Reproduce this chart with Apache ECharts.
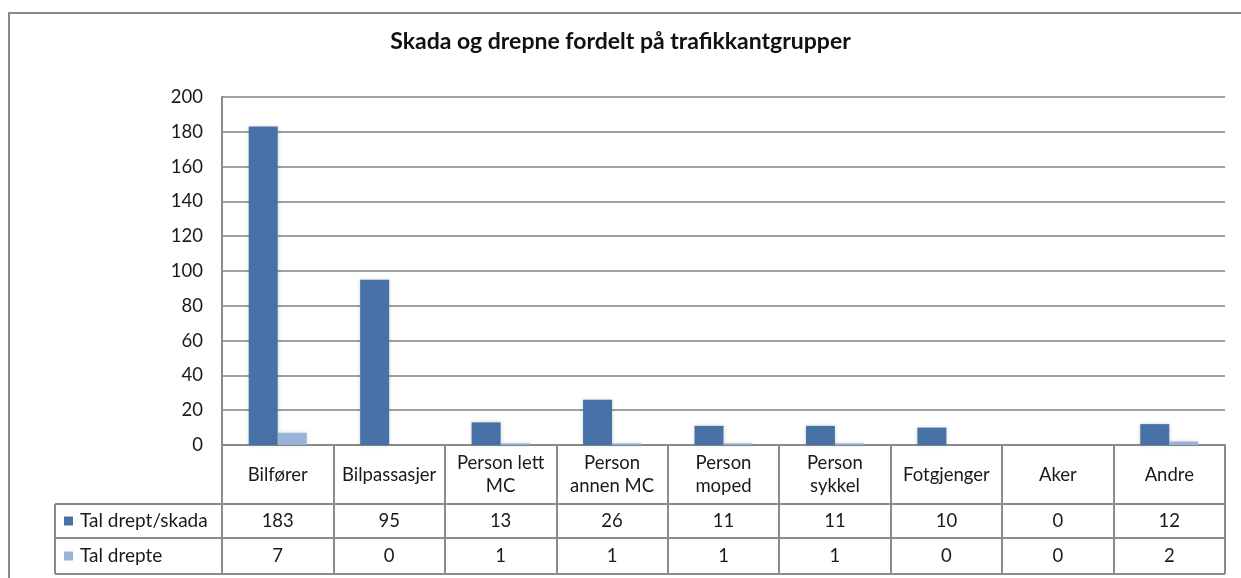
<!DOCTYPE html>
<html>
<head>
<meta charset="utf-8">
<script src="https://cdn.jsdelivr.net/npm/echarts@6/dist/echarts.min.js"></script>
<style>
html,body{margin:0;padding:0;background:#fff;}
#main{width:1241px;height:578px;}
</style>
</head>
<body>
<div id="main"></div>
<script>
const title = 'Skada og drepne fordelt på trafikkantgrupper';
const categories = ['Bilfører', 'Bilpassasjer', 'Person lett\nMC', 'Person\nannen MC', 'Person\nmoped', 'Person\nsykkel', 'Fotgjenger', 'Aker', 'Andre'];
const seriesNames = ['Tal drept/skada', 'Tal drepte'];
const skada = [183, 95, 13, 26, 11, 11, 10, 0, 12];
const drepte = [7, 0, 1, 1, 1, 1, 0, 0, 2];
const yTicks = [0, 20, 40, 60, 80, 100, 120, 140, 160, 180, 200];

const FONT = 'Lato, "Open Sans", sans-serif';
const colors = ['#4672a8', '#98b2d8'];
const lineCol = '#8a8a8a';

const W = 1241, H = 578;
const plotLeft = 222, plotRight = 1225, plotTop = 97, axisY = 445;
const rowBounds = [504, 538, 574];
const tableLeft = 55;

const chart = echarts.init(document.getElementById('main'), null, {renderer: 'canvas'});

const option = {
  animation: false,
  backgroundColor: '#fff',
  title: {
    text: title,
    left: 'center',
    top: 25,
    textStyle: {fontFamily: FONT, fontSize: 23, fontWeight: 'bold', color: '#111'}
  },
  grid: {left: plotLeft, right: W - plotRight, top: plotTop, bottom: H - axisY, containLabel: false},
  xAxis: {
    type: 'category',
    data: categories,
    axisLine: {show: true, lineStyle: {color: lineCol, width: 2}},
    axisTick: {show: true, length: rowBounds[2] - axisY, interval: 0, lineStyle: {color: lineCol, width: 2}},
    axisLabel: {
      interval: 0, margin: 30, verticalAlign: 'middle', lineHeight: 23,
      fontFamily: FONT, fontSize: 18.5, color: '#1a1a1a'
    }
  },
  yAxis: {
    type: 'value',
    min: yTicks[0], max: yTicks[yTicks.length - 1], interval: yTicks[1] - yTicks[0],
    axisLine: {show: true, lineStyle: {color: lineCol, width: 2}},
    axisTick: {show: false},
    axisLabel: {margin: 19, fontFamily: FONT, fontSize: 18.5, color: '#1a1a1a'},
    splitLine: {show: true, lineStyle: {color: '#a0a0a0', width: 2}}
  },
  series: [
    {
      name: seriesNames[0], type: 'bar', data: skada, barWidth: 29, barGap: '0%',
      itemStyle: {color: colors[0], shadowColor: 'rgba(0,0,0,0.18)', shadowBlur: 4}
    },
    {
      name: seriesNames[1], type: 'bar', data: drepte, barWidth: 29, barGap: '0%',
      itemStyle: {color: colors[1], shadowColor: 'rgba(0,0,0,0.15)', shadowBlur: 4}
    }
  ]
};
chart.setOption(option);

// Build the data table under the axis from the arrays, positioned by the category scale
const g = [];
g.push({type: 'rect', shape: {x: 9, y: 13, width: W + 20, height: H + 20}, style: {fill: null, stroke: lineCol, lineWidth: 2}, z: -1, silent: true});
rowBounds.forEach(y => {
  g.push({type: 'line', shape: {x1: tableLeft, y1: y, x2: plotRight, y2: y}, style: {stroke: lineCol, lineWidth: 2}, silent: true});
});
g.push({type: 'line', shape: {x1: tableLeft, y1: rowBounds[0], x2: tableLeft, y2: rowBounds[2]}, style: {stroke: lineCol, lineWidth: 2}, silent: true});

const rows = [skada, drepte];
rows.forEach((vals, r) => {
  const yc = (rowBounds[r] + rowBounds[r + 1]) / 2;
  g.push({type: 'rect', shape: {x: 64, y: yc - 4.5, width: 9, height: 9}, style: {fill: colors[r]}, silent: true});
  g.push({type: 'text', x: 80, y: yc, style: {text: seriesNames[r], fontFamily: FONT, fontSize: 19, fill: '#1a1a1a', textAlign: 'left', textVerticalAlign: 'middle'}, silent: true});
  vals.forEach((v, i) => {
    const x = chart.convertToPixel({xAxisIndex: 0}, categories[i]);
    g.push({type: 'text', x: x, y: yc, style: {text: String(v), fontFamily: FONT, fontSize: 18.5, fill: '#1a1a1a', textAlign: 'center', textVerticalAlign: 'middle'}, silent: true});
  });
});
chart.setOption({graphic: g});
</script>
</body>
</html>
